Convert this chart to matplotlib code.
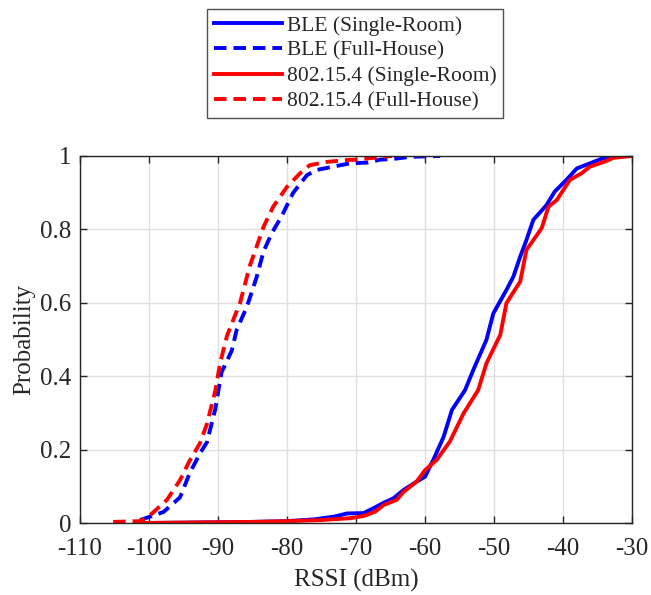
import matplotlib
matplotlib.use("Agg")
import matplotlib.pyplot as plt

plt.rcParams['font.family'] = ['Liberation Serif', 'DejaVu Serif']
plt.rcParams['lines.scale_dashes'] = False

# BLE (Single-Room)
ble_sr_x = [-101, -95, -90, -85, -80, -76, -73, -71.3, -68.9, -67.5, -66.0, -64.6, -63.1, -61.2, -60.0,
            -58.8, -57.3, -56.1, -54.2, -53.0, -51.1, -50.1, -48.2, -47.2, -46.2, -45.3, -44.3,
            -42.4, -41.2, -39.5, -38.0, -36.1, -34.2, -32.2, -30]
ble_sr_y = [0.0, 0.001, 0.002, 0.003, 0.005, 0.01, 0.018, 0.026, 0.027, 0.04, 0.055, 0.067, 0.09, 0.113, 0.126,
            0.172, 0.235, 0.308, 0.362, 0.417, 0.499, 0.571, 0.635, 0.671, 0.726, 0.771, 0.826,
            0.866, 0.903, 0.935, 0.966, 0.98, 0.994, 1.0, 1.0]

# BLE (Full-House)
ble_fh_x = [-101.3, -97.9, -95.5, -94.1, -92.6, -91.6, -90.4, -89.5, -88.0, -87.3, -85.8, -84.4, -83.4,
            -82.2, -80.8, -79.1, -77.1, -75.7, -73.3, -70.9, -68.4, -66.5, -64.6, -62.0, -57.8]
ble_fh_y = [0.008, 0.03, 0.07, 0.136, 0.19, 0.22, 0.31, 0.41, 0.47, 0.526, 0.59, 0.67, 0.74,
            0.79, 0.835, 0.90, 0.948, 0.962, 0.971, 0.98, 0.982, 0.99, 0.992, 0.998, 1.0]

# 802.15.4 (Single-Room)
zb_sr_x = [-101.5, -95, -90, -85, -80, -75, -70.9, -68.9, -67.2, -66.0, -64.1, -63.1, -61.2, -60.0, -58.3,
           -56.4, -54.4, -52.3, -51.1, -49.1, -48.2, -46.2, -45.3, -43.1, -42.1, -40.9, -39.0,
           -37.3, -36.1, -33.9, -32.7, -30]
zb_sr_y = [0.0, 0.001, 0.002, 0.003, 0.005, 0.008, 0.013, 0.019, 0.031, 0.049, 0.063, 0.085, 0.113, 0.144, 0.172,
           0.222, 0.299, 0.362, 0.435, 0.512, 0.599, 0.658, 0.744, 0.803, 0.862, 0.88, 0.935,
           0.953, 0.971, 0.985, 0.995, 1.0]

# 802.15.4 (Full-House)
zb_fh_x = [-105.2, -101.3, -99.9, -97.4, -95.5, -94.1, -92.6, -91.6, -90.4, -89.7, -88.7, -87.8, -86.8,
           -85.4, -84.4, -83.4, -82.0, -80.0, -78.1, -76.7, -74.2, -71.3, -69.9, -66.1, -64.8]
zb_fh_y = [0.003, 0.005, 0.02, 0.063, 0.117, 0.17, 0.218, 0.27, 0.36, 0.435, 0.51, 0.553, 0.6,
           0.70, 0.753, 0.807, 0.862, 0.916, 0.953, 0.975, 0.984, 0.989, 0.99, 0.998, 1.0]

x_ticks = [-110, -100, -90, -80, -70, -60, -50, -40, -30]
y_ticks = [0, 0.2, 0.4, 0.6, 0.8, 1]
y_tick_labels = ['0', '0.2', '0.4', '0.6', '0.8', '1']

fig = plt.figure(figsize=(6.51, 5.95), dpi=100)
ax = fig.add_axes([80/651, 1 - 523/595, (632-80)/651, (523-156)/595])

lw = 2.8
dash = (0, (9, 5))
l1, = ax.plot(ble_sr_x, ble_sr_y, color='#0000ff', lw=lw, label='BLE (Single-Room)')
l2, = ax.plot(ble_fh_x, ble_fh_y, color='#0000ff', lw=lw, ls=dash, label='BLE (Full-House)')
l3, = ax.plot(zb_sr_x, zb_sr_y, color='#ff0000', lw=lw, label='802.15.4 (Single-Room)')
l4, = ax.plot(zb_fh_x, zb_fh_y, color='#ff0000', lw=lw, ls=dash, label='802.15.4 (Full-House)')

ax.set_xlim(-110, -30)
ax.set_ylim(0, 1)
ax.set_xticks(x_ticks)
ax.set_xticklabels([str(t) for t in x_ticks])
ax.set_yticks(y_ticks)
ax.set_yticklabels(y_tick_labels)
ax.grid(True, color='#e0e0e0', lw=1.0)
ax.set_axisbelow(True)
for s in ax.spines.values():
    s.set_color('#262626')
    s.set_linewidth(1.0)
ax.tick_params(direction='in', top=True, right=True, length=5, width=1.0,
               color='#262626', labelsize=18, labelcolor='#262626')
ax.tick_params(axis='x', pad=11)
ax.tick_params(axis='y', pad=6)
ax.set_xlabel('RSSI (dBm)', fontsize=18, color='#262626', labelpad=6)
ax.set_ylabel('Probability', fontsize=18, color='#262626', labelpad=4)

leg = fig.legend(handles=[l1, l2, l3, l4], loc='upper center', bbox_to_anchor=(355/651, 1 - 9/595),
                 fontsize=15.5, frameon=True, fancybox=False, edgecolor='#262626',
                 handlelength=3.2, handletextpad=0.2, borderpad=0.3, labelspacing=0.25,
                 borderaxespad=0)
leg.get_frame().set_linewidth(1.0)
for t in leg.get_texts():
    t.set_color('#262626')

fig.savefig('out.png', dpi=100)
